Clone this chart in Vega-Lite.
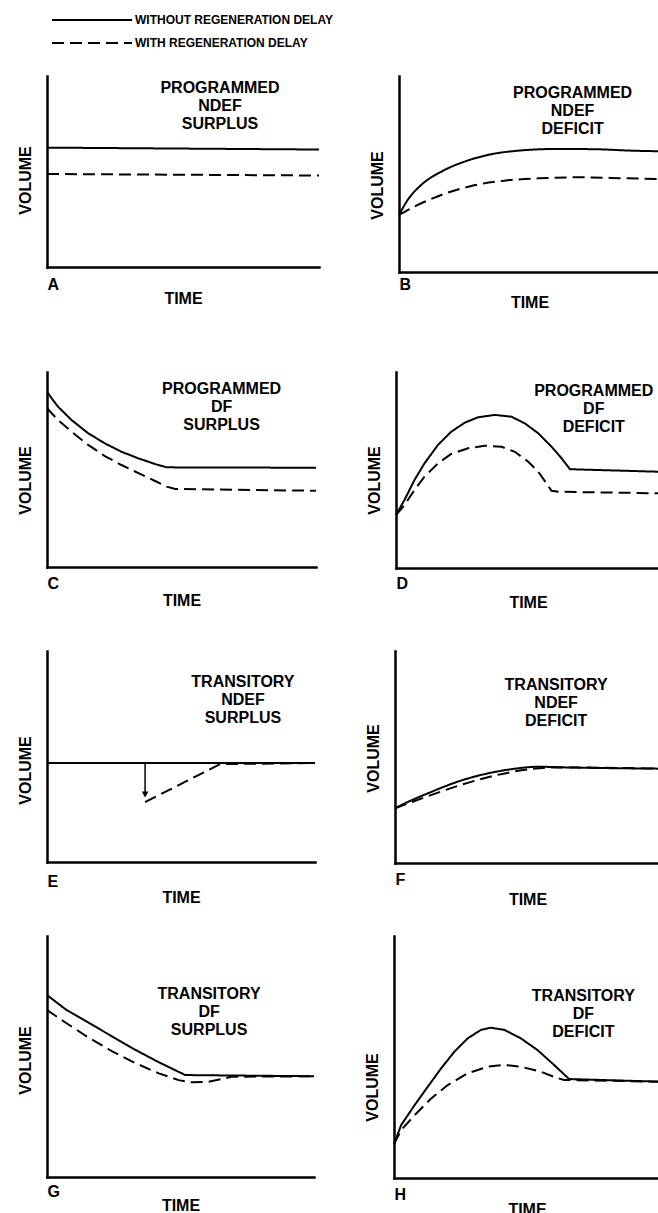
{
  "$schema": "https://vega.github.io/schema/vega-lite/v6.json",
  "background": "white",
  "padding": {"left": 17, "top": 9, "right": 0, "bottom": 0},
  "config": {
    "view": {"stroke": null},
    "font": "Liberation Sans",
    "axis": {"domainColor": "black", "domainWidth": 2.5, "domainCap": "square", "ticks": false, "grid": false, "labelFont": "Liberation Sans", "labelFontWeight": "bold", "labelFontSize": 16, "labelColor": "black", "titleFont": "Liberation Sans", "titleFontWeight": "bold", "titleFontSize": 16, "titleColor": "black"},
    "axisX": {"labelPadding": 9, "titlePadding": 0, "labelAlign": "left"},
    "axisY": {"labels": false, "titlePadding": 13.5},
    "legend": {"orient": "none", "legendX": 34, "legendY": -67, "symbolType": "M-4,0H4", "symbolSize": 400, "symbolStrokeWidth": 2, "symbolStrokeColor": "black", "labelFont": "Liberation Sans", "labelFontWeight": "bold", "labelFontSize": 12, "labelColor": "black", "labelOffset": 32, "rowPadding": 6, "direction": "vertical", "labelLimit": 400},
    "text": {"font": "Liberation Sans", "fontWeight": "bold", "fontSize": 16, "color": "black", "baseline": "top", "align": "center", "lineHeight": 18}
  },
  "datasets": {
    "curves": [
      {"panel": "A", "series": "WITHOUT REGENERATION DELAY", "time": 0, "volume": 6.25},
      {"panel": "A", "series": "WITHOUT REGENERATION DELAY", "time": 10, "volume": 6.15},
      {"panel": "A", "series": "WITH REGENERATION DELAY", "time": 0, "volume": 4.87},
      {"panel": "A", "series": "WITH REGENERATION DELAY", "time": 10, "volume": 4.79},

      {"panel": "B", "series": "WITHOUT REGENERATION DELAY", "time": 0, "volume": 2.91},
      {"panel": "B", "series": "WITHOUT REGENERATION DELAY", "time": 0.33, "volume": 3.67},
      {"panel": "B", "series": "WITHOUT REGENERATION DELAY", "time": 0.85, "volume": 4.44},
      {"panel": "B", "series": "WITHOUT REGENERATION DELAY", "time": 1.62, "volume": 5.12},
      {"panel": "B", "series": "WITHOUT REGENERATION DELAY", "time": 2.51, "volume": 5.63},
      {"panel": "B", "series": "WITHOUT REGENERATION DELAY", "time": 3.54, "volume": 6.01},
      {"panel": "B", "series": "WITHOUT REGENERATION DELAY", "time": 4.57, "volume": 6.19},
      {"panel": "B", "series": "WITHOUT REGENERATION DELAY", "time": 6.10, "volume": 6.28},
      {"panel": "B", "series": "WITHOUT REGENERATION DELAY", "time": 7.64, "volume": 6.26},
      {"panel": "B", "series": "WITHOUT REGENERATION DELAY", "time": 8.92, "volume": 6.19},
      {"panel": "B", "series": "WITHOUT REGENERATION DELAY", "time": 10, "volume": 6.16},
      {"panel": "B", "series": "WITH REGENERATION DELAY", "time": 0, "volume": 2.91},
      {"panel": "B", "series": "WITH REGENERATION DELAY", "time": 0.72, "volume": 3.42},
      {"panel": "B", "series": "WITH REGENERATION DELAY", "time": 1.62, "volume": 3.93},
      {"panel": "B", "series": "WITH REGENERATION DELAY", "time": 2.77, "volume": 4.39},
      {"panel": "B", "series": "WITH REGENERATION DELAY", "time": 4.05, "volume": 4.66},
      {"panel": "B", "series": "WITH REGENERATION DELAY", "time": 5.33, "volume": 4.78},
      {"panel": "B", "series": "WITH REGENERATION DELAY", "time": 7.0, "volume": 4.83},
      {"panel": "B", "series": "WITH REGENERATION DELAY", "time": 8.67, "volume": 4.78},
      {"panel": "B", "series": "WITH REGENERATION DELAY", "time": 10, "volume": 4.74},

      {"panel": "C", "series": "WITHOUT REGENERATION DELAY", "time": 0, "volume": 8.99},
      {"panel": "C", "series": "WITHOUT REGENERATION DELAY", "time": 0.2, "volume": 8.6},
      {"panel": "C", "series": "WITHOUT REGENERATION DELAY", "time": 0.41, "volume": 8.22},
      {"panel": "C", "series": "WITHOUT REGENERATION DELAY", "time": 0.91, "volume": 7.54},
      {"panel": "C", "series": "WITHOUT REGENERATION DELAY", "time": 1.53, "volume": 6.86},
      {"panel": "C", "series": "WITHOUT REGENERATION DELAY", "time": 2.15, "volume": 6.34},
      {"panel": "C", "series": "WITHOUT REGENERATION DELAY", "time": 2.77, "volume": 5.91},
      {"panel": "C", "series": "WITHOUT REGENERATION DELAY", "time": 3.40, "volume": 5.57},
      {"panel": "C", "series": "WITHOUT REGENERATION DELAY", "time": 4.02, "volume": 5.28},
      {"panel": "C", "series": "WITHOUT REGENERATION DELAY", "time": 4.45, "volume": 5.11},
      {"panel": "C", "series": "WITHOUT REGENERATION DELAY", "time": 10, "volume": 5.09},
      {"panel": "C", "series": "WITH REGENERATION DELAY", "time": 0, "volume": 8.14},
      {"panel": "C", "series": "WITH REGENERATION DELAY", "time": 0.41, "volume": 7.54},
      {"panel": "C", "series": "WITH REGENERATION DELAY", "time": 0.91, "volume": 6.94},
      {"panel": "C", "series": "WITH REGENERATION DELAY", "time": 1.53, "volume": 6.26},
      {"panel": "C", "series": "WITH REGENERATION DELAY", "time": 2.15, "volume": 5.69},
      {"panel": "C", "series": "WITH REGENERATION DELAY", "time": 2.77, "volume": 5.23},
      {"panel": "C", "series": "WITH REGENERATION DELAY", "time": 3.40, "volume": 4.81},
      {"panel": "C", "series": "WITH REGENERATION DELAY", "time": 4.02, "volume": 4.41},
      {"panel": "C", "series": "WITH REGENERATION DELAY", "time": 4.45, "volume": 4.12},
      {"panel": "C", "series": "WITH REGENERATION DELAY", "time": 4.77, "volume": 4.0},
      {"panel": "C", "series": "WITH REGENERATION DELAY", "time": 10, "volume": 3.91},

      {"panel": "D", "series": "WITHOUT REGENERATION DELAY", "time": 0, "volume": 2.70},
      {"panel": "D", "series": "WITHOUT REGENERATION DELAY", "time": 0.32, "volume": 3.47},
      {"panel": "D", "series": "WITHOUT REGENERATION DELAY", "time": 0.70, "volume": 4.49},
      {"panel": "D", "series": "WITHOUT REGENERATION DELAY", "time": 1.08, "volume": 5.34},
      {"panel": "D", "series": "WITHOUT REGENERATION DELAY", "time": 1.59, "volume": 6.28},
      {"panel": "D", "series": "WITHOUT REGENERATION DELAY", "time": 2.09, "volume": 6.95},
      {"panel": "D", "series": "WITHOUT REGENERATION DELAY", "time": 2.60, "volume": 7.41},
      {"panel": "D", "series": "WITHOUT REGENERATION DELAY", "time": 3.11, "volume": 7.69},
      {"panel": "D", "series": "WITHOUT REGENERATION DELAY", "time": 3.74, "volume": 7.81},
      {"panel": "D", "series": "WITHOUT REGENERATION DELAY", "time": 4.37, "volume": 7.72},
      {"panel": "D", "series": "WITHOUT REGENERATION DELAY", "time": 4.88, "volume": 7.38},
      {"panel": "D", "series": "WITHOUT REGENERATION DELAY", "time": 5.39, "volume": 6.87},
      {"panel": "D", "series": "WITHOUT REGENERATION DELAY", "time": 5.89, "volume": 6.19},
      {"panel": "D", "series": "WITHOUT REGENERATION DELAY", "time": 6.27, "volume": 5.60},
      {"panel": "D", "series": "WITHOUT REGENERATION DELAY", "time": 6.59, "volume": 5.04},
      {"panel": "D", "series": "WITHOUT REGENERATION DELAY", "time": 10, "volume": 4.91},
      {"panel": "D", "series": "WITH REGENERATION DELAY", "time": 0, "volume": 2.70},
      {"panel": "D", "series": "WITH REGENERATION DELAY", "time": 0.32, "volume": 3.21},
      {"panel": "D", "series": "WITH REGENERATION DELAY", "time": 0.70, "volume": 3.98},
      {"panel": "D", "series": "WITH REGENERATION DELAY", "time": 1.08, "volume": 4.66},
      {"panel": "D", "series": "WITH REGENERATION DELAY", "time": 1.59, "volume": 5.34},
      {"panel": "D", "series": "WITH REGENERATION DELAY", "time": 2.09, "volume": 5.82},
      {"panel": "D", "series": "WITH REGENERATION DELAY", "time": 2.73, "volume": 6.11},
      {"panel": "D", "series": "WITH REGENERATION DELAY", "time": 3.36, "volume": 6.24},
      {"panel": "D", "series": "WITH REGENERATION DELAY", "time": 3.99, "volume": 6.19},
      {"panel": "D", "series": "WITH REGENERATION DELAY", "time": 4.50, "volume": 5.93},
      {"panel": "D", "series": "WITH REGENERATION DELAY", "time": 5.01, "volume": 5.42},
      {"panel": "D", "series": "WITH REGENERATION DELAY", "time": 5.39, "volume": 4.91},
      {"panel": "D", "series": "WITH REGENERATION DELAY", "time": 5.70, "volume": 4.32},
      {"panel": "D", "series": "WITH REGENERATION DELAY", "time": 5.89, "volume": 3.94},
      {"panel": "D", "series": "WITH REGENERATION DELAY", "time": 6.15, "volume": 3.89},
      {"panel": "D", "series": "WITH REGENERATION DELAY", "time": 10, "volume": 3.81},

      {"panel": "E", "series": "WITHOUT REGENERATION DELAY", "time": 0, "volume": 4.69},
      {"panel": "E", "series": "WITHOUT REGENERATION DELAY", "time": 10, "volume": 4.69},
      {"panel": "E", "series": "WITH REGENERATION DELAY", "time": 3.66, "volume": 2.84},
      {"panel": "E", "series": "WITH REGENERATION DELAY", "time": 6.46, "volume": 4.64},
      {"panel": "E", "series": "WITH REGENERATION DELAY", "time": 10, "volume": 4.69},

      {"panel": "F", "series": "WITHOUT REGENERATION DELAY", "time": 0, "volume": 2.58},
      {"panel": "F", "series": "WITHOUT REGENERATION DELAY", "time": 0.52, "volume": 2.90},
      {"panel": "F", "series": "WITHOUT REGENERATION DELAY", "time": 1.40, "volume": 3.37},
      {"panel": "F", "series": "WITHOUT REGENERATION DELAY", "time": 2.40, "volume": 3.85},
      {"panel": "F", "series": "WITHOUT REGENERATION DELAY", "time": 3.41, "volume": 4.20},
      {"panel": "F", "series": "WITHOUT REGENERATION DELAY", "time": 4.42, "volume": 4.43},
      {"panel": "F", "series": "WITHOUT REGENERATION DELAY", "time": 5.42, "volume": 4.54},
      {"panel": "F", "series": "WITHOUT REGENERATION DELAY", "time": 6.43, "volume": 4.51},
      {"panel": "F", "series": "WITHOUT REGENERATION DELAY", "time": 10, "volume": 4.45},
      {"panel": "F", "series": "WITH REGENERATION DELAY", "time": 0, "volume": 2.58},
      {"panel": "F", "series": "WITH REGENERATION DELAY", "time": 6.18, "volume": 4.51},
      {"panel": "F", "series": "WITH REGENERATION DELAY", "time": 10, "volume": 4.45},

      {"panel": "G", "series": "WITHOUT REGENERATION DELAY", "time": 0, "volume": 7.55},
      {"panel": "G", "series": "WITHOUT REGENERATION DELAY", "time": 0.73, "volume": 6.93},
      {"panel": "G", "series": "WITHOUT REGENERATION DELAY", "time": 1.59, "volume": 6.38},
      {"panel": "G", "series": "WITHOUT REGENERATION DELAY", "time": 2.46, "volume": 5.82},
      {"panel": "G", "series": "WITHOUT REGENERATION DELAY", "time": 3.32, "volume": 5.27},
      {"panel": "G", "series": "WITHOUT REGENERATION DELAY", "time": 4.19, "volume": 4.76},
      {"panel": "G", "series": "WITHOUT REGENERATION DELAY", "time": 5.05, "volume": 4.30},
      {"panel": "G", "series": "WITHOUT REGENERATION DELAY", "time": 5.17, "volume": 4.23},
      {"panel": "G", "series": "WITHOUT REGENERATION DELAY", "time": 10, "volume": 4.18},
      {"panel": "G", "series": "WITH REGENERATION DELAY", "time": 0, "volume": 6.93},
      {"panel": "G", "series": "WITH REGENERATION DELAY", "time": 0.73, "volume": 6.38},
      {"panel": "G", "series": "WITH REGENERATION DELAY", "time": 1.59, "volume": 5.76},
      {"panel": "G", "series": "WITH REGENERATION DELAY", "time": 2.46, "volume": 5.20},
      {"panel": "G", "series": "WITH REGENERATION DELAY", "time": 3.32, "volume": 4.72},
      {"panel": "G", "series": "WITH REGENERATION DELAY", "time": 4.19, "volume": 4.30},
      {"panel": "G", "series": "WITH REGENERATION DELAY", "time": 4.93, "volume": 4.02},
      {"panel": "G", "series": "WITH REGENERATION DELAY", "time": 5.42, "volume": 3.93},
      {"panel": "G", "series": "WITH REGENERATION DELAY", "time": 6.04, "volume": 3.95},
      {"panel": "G", "series": "WITH REGENERATION DELAY", "time": 6.66, "volume": 4.09},
      {"panel": "G", "series": "WITH REGENERATION DELAY", "time": 6.90, "volume": 4.16},
      {"panel": "G", "series": "WITH REGENERATION DELAY", "time": 10, "volume": 4.18},

      {"panel": "H", "series": "WITHOUT REGENERATION DELAY", "time": 0, "volume": 1.40},
      {"panel": "H", "series": "WITHOUT REGENERATION DELAY", "time": 0.27, "volume": 2.19},
      {"panel": "H", "series": "WITHOUT REGENERATION DELAY", "time": 0.78, "volume": 3.02},
      {"panel": "H", "series": "WITHOUT REGENERATION DELAY", "time": 1.27, "volume": 3.77},
      {"panel": "H", "series": "WITHOUT REGENERATION DELAY", "time": 1.77, "volume": 4.53},
      {"panel": "H", "series": "WITHOUT REGENERATION DELAY", "time": 2.27, "volume": 5.22},
      {"panel": "H", "series": "WITHOUT REGENERATION DELAY", "time": 2.77, "volume": 5.77},
      {"panel": "H", "series": "WITHOUT REGENERATION DELAY", "time": 3.27, "volume": 6.12},
      {"panel": "H", "series": "WITHOUT REGENERATION DELAY", "time": 3.64, "volume": 6.21},
      {"panel": "H", "series": "WITHOUT REGENERATION DELAY", "time": 4.15, "volume": 6.12},
      {"panel": "H", "series": "WITHOUT REGENERATION DELAY", "time": 4.77, "volume": 5.77},
      {"panel": "H", "series": "WITHOUT REGENERATION DELAY", "time": 5.39, "volume": 5.29},
      {"panel": "H", "series": "WITHOUT REGENERATION DELAY", "time": 6.02, "volume": 4.67},
      {"panel": "H", "series": "WITHOUT REGENERATION DELAY", "time": 6.58, "volume": 4.09},
      {"panel": "H", "series": "WITHOUT REGENERATION DELAY", "time": 10, "volume": 3.98},
      {"panel": "H", "series": "WITH REGENERATION DELAY", "time": 0, "volume": 1.40},
      {"panel": "H", "series": "WITH REGENERATION DELAY", "time": 0.27, "volume": 1.98},
      {"panel": "H", "series": "WITH REGENERATION DELAY", "time": 0.78, "volume": 2.60},
      {"panel": "H", "series": "WITH REGENERATION DELAY", "time": 1.40, "volume": 3.29},
      {"panel": "H", "series": "WITH REGENERATION DELAY", "time": 2.02, "volume": 3.84},
      {"panel": "H", "series": "WITH REGENERATION DELAY", "time": 2.77, "volume": 4.33},
      {"panel": "H", "series": "WITH REGENERATION DELAY", "time": 3.52, "volume": 4.60},
      {"panel": "H", "series": "WITH REGENERATION DELAY", "time": 4.15, "volume": 4.67},
      {"panel": "H", "series": "WITH REGENERATION DELAY", "time": 4.77, "volume": 4.60},
      {"panel": "H", "series": "WITH REGENERATION DELAY", "time": 5.52, "volume": 4.39},
      {"panel": "H", "series": "WITH REGENERATION DELAY", "time": 6.02, "volume": 4.18},
      {"panel": "H", "series": "WITH REGENERATION DELAY", "time": 6.39, "volume": 4.05},
      {"panel": "H", "series": "WITH REGENERATION DELAY", "time": 10, "volume": 3.98}
    ]
  },
  "spacing": 62,
  "vconcat": [
    {"spacing": 46, "hconcat": [
      {"width": 272, "height": 191, "layer": [
        {"data": {"name": "curves"}, "transform": [{"filter": "datum.panel === 'A'"}],
         "mark": {"type": "line", "interpolate": "linear", "color": "black", "strokeWidth": 2},
         "encoding": {
           "x": {"field": "time", "type": "quantitative", "scale": {"domain": [0, 10], "nice": false, "zero": false}, "axis": {"values": [0], "labelExpr": "'A'", "title": "TIME", "labelPadding": 9, "titlePadding": -2}},
           "y": {"field": "volume", "type": "quantitative", "scale": {"domain": [0, 10], "nice": false}, "axis": {"title": "VOLUME", "titleY": 104}},
           "strokeDash": {"field": "series", "type": "nominal", "scale": {"domain": ["WITHOUT REGENERATION DELAY", "WITH REGENERATION DELAY"], "range": [[1, 0], [12, 6]]}, "legend": {"title": null}}
         }},
        {"data": {"values": [{}]}, "mark": {"type": "text", "text": ["PROGRAMMED", "NDEF", "SURPLUS"]},
         "encoding": {"x": {"datum": 6.36, "type": "quantitative"}, "y": {"datum": 9.79, "type": "quantitative"}}}
      ]},
      {"width": 261, "height": 196, "layer": [
        {"data": {"name": "curves"}, "transform": [{"filter": "datum.panel === 'B'"}],
         "mark": {"type": "line", "interpolate": "monotone", "color": "black", "strokeWidth": 2},
         "encoding": {
           "x": {"field": "time", "type": "quantitative", "scale": {"domain": [0, 10], "nice": false, "zero": false}, "axis": {"values": [0], "labelExpr": "'B'", "title": "TIME", "labelPadding": 4, "titlePadding": 2}},
           "y": {"field": "volume", "type": "quantitative", "scale": {"domain": [0, 10], "nice": false}, "axis": {"title": "VOLUME", "titleY": 109}},
           "strokeDash": {"field": "series", "type": "nominal", "scale": {"domain": ["WITHOUT REGENERATION DELAY", "WITH REGENERATION DELAY"], "range": [[1, 0], [12, 6]]}, "legend": {"title": null}}
         }},
        {"data": {"values": [{}]}, "mark": {"type": "text", "text": ["PROGRAMMED", "NDEF", "DEFICIT"]},
         "encoding": {"x": {"datum": 6.65, "type": "quantitative"}, "y": {"datum": 9.54, "type": "quantitative"}}}
      ]}
    ]},
    {"spacing": 41, "vconcat": [
      {"spacing": 46, "hconcat": [
        {"width": 269, "height": 195, "layer": [
          {"data": {"name": "curves"}, "transform": [{"filter": "datum.panel === 'C'"}],
           "mark": {"type": "line", "interpolate": "linear", "color": "black", "strokeWidth": 2},
           "encoding": {
             "x": {"field": "time", "type": "quantitative", "scale": {"domain": [0, 10], "nice": false, "zero": false}, "axis": {"values": [0], "labelExpr": "'C'", "title": "TIME", "labelPadding": 8, "titlePadding": 1}},
             "y": {"field": "volume", "type": "quantitative", "scale": {"domain": [0, 10], "nice": false}, "axis": {"title": "VOLUME", "titleY": 108}},
             "strokeDash": {"field": "series", "type": "nominal", "scale": {"domain": ["WITHOUT REGENERATION DELAY", "WITH REGENERATION DELAY"], "range": [[1, 0], [12, 6]]}, "legend": {"title": null}}
           }},
          {"data": {"values": [{}]}, "mark": {"type": "text", "text": ["PROGRAMMED", "DF", "SURPLUS"]},
           "encoding": {"x": {"datum": 6.49, "type": "quantitative"}, "y": {"datum": 9.54, "type": "quantitative"}}}
        ]},
        {"width": 264, "height": 196, "layer": [
          {"data": {"name": "curves"}, "transform": [{"filter": "datum.panel === 'D'"}],
           "mark": {"type": "line", "interpolate": "linear", "color": "black", "strokeWidth": 2},
           "encoding": {
             "x": {"field": "time", "type": "quantitative", "scale": {"domain": [0, 10], "nice": false, "zero": false}, "axis": {"values": [0], "labelExpr": "'D'", "title": "TIME", "labelPadding": 7, "titlePadding": 3}},
             "y": {"field": "volume", "type": "quantitative", "scale": {"domain": [0, 10], "nice": false}, "axis": {"title": "VOLUME", "titleY": 108}},
             "strokeDash": {"field": "series", "type": "nominal", "scale": {"domain": ["WITHOUT REGENERATION DELAY", "WITH REGENERATION DELAY"], "range": [[1, 0], [12, 6]]}, "legend": {"title": null}}
           }},
          {"data": {"values": [{}]}, "mark": {"type": "text", "text": ["PROGRAMMED", "DF", "DEFICIT"]},
           "encoding": {"x": {"datum": 7.49, "type": "quantitative"}, "y": {"datum": 9.44, "type": "quantitative"}}}
        ]}
      ]},
      {"spacing": 29, "vconcat": [
        {"spacing": 46, "hconcat": [
          {"width": 268, "height": 211, "layer": [
            {"data": {"name": "curves"}, "transform": [{"filter": "datum.panel === 'E'"}],
             "mark": {"type": "line", "interpolate": "linear", "color": "black", "strokeWidth": 2},
             "encoding": {
               "x": {"field": "time", "type": "quantitative", "scale": {"domain": [0, 10], "nice": false, "zero": false}, "axis": {"values": [0], "labelExpr": "'E'", "title": "TIME", "labelPadding": 11, "titlePadding": 0}},
               "y": {"field": "volume", "type": "quantitative", "scale": {"domain": [0, 10], "nice": false}, "axis": {"title": "VOLUME", "titleY": 119}},
               "strokeDash": {"field": "series", "type": "nominal", "scale": {"domain": ["WITHOUT REGENERATION DELAY", "WITH REGENERATION DELAY"], "range": [[1, 0], [12, 6]]}, "legend": {"title": null}}
             }},
            {"data": {"values": [{}]}, "mark": {"type": "rule", "color": "black", "strokeWidth": 1.5},
             "encoding": {"x": {"datum": 3.66, "type": "quantitative"}, "y": {"datum": 4.69, "type": "quantitative"}, "y2": {"datum": 3.3}}},
            {"data": {"values": [{}]}, "mark": {"type": "point", "shape": "triangle-down", "filled": true, "color": "black", "opacity": 1, "size": 45},
             "encoding": {"x": {"datum": 3.66, "type": "quantitative"}, "y": {"datum": 3.2, "type": "quantitative"}}},
            {"data": {"values": [{}]}, "mark": {"type": "text", "text": ["TRANSITORY", "NDEF", "SURPLUS"]},
             "encoding": {"x": {"datum": 7.31, "type": "quantitative"}, "y": {"datum": 8.91, "type": "quantitative"}}}
          ]},
          {"width": 265, "height": 212, "layer": [
            {"data": {"name": "curves"}, "transform": [{"filter": "datum.panel === 'F'"}],
             "mark": {"type": "line", "interpolate": "monotone", "color": "black", "strokeWidth": 2},
             "encoding": {
               "x": {"field": "time", "type": "quantitative", "scale": {"domain": [0, 10], "nice": false, "zero": false}, "axis": {"values": [0], "labelExpr": "'F'", "title": "TIME", "labelPadding": 8, "titlePadding": 4}},
               "y": {"field": "volume", "type": "quantitative", "scale": {"domain": [0, 10], "nice": false}, "axis": {"title": "VOLUME", "titleY": 107}},
               "strokeDash": {"field": "series", "type": "nominal", "scale": {"domain": ["WITHOUT REGENERATION DELAY", "WITH REGENERATION DELAY"], "range": [[1, 0], [12, 6]]}, "legend": {"title": null}}
             }},
            {"data": {"values": [{}]}, "mark": {"type": "text", "text": ["TRANSITORY", "NDEF", "DEFICIT"]},
             "encoding": {"x": {"datum": 6.08, "type": "quantitative"}, "y": {"datum": 8.77, "type": "quantitative"}}}
          ]}
        ]},
        {"spacing": 46, "hconcat": [
          {"width": 267, "height": 241, "layer": [
            {"data": {"name": "curves"}, "transform": [{"filter": "datum.panel === 'G'"}],
             "mark": {"type": "line", "interpolate": "linear", "color": "black", "strokeWidth": 2},
             "encoding": {
               "x": {"field": "time", "type": "quantitative", "scale": {"domain": [0, 10], "nice": false, "zero": false}, "axis": {"values": [0], "labelExpr": "'G'", "title": "TIME", "labelPadding": 6, "titlePadding": -2}},
               "y": {"field": "volume", "type": "quantitative", "scale": {"domain": [0, 10], "nice": false}, "axis": {"title": "VOLUME", "titleY": 124}},
               "strokeDash": {"field": "series", "type": "nominal", "scale": {"domain": ["WITHOUT REGENERATION DELAY", "WITH REGENERATION DELAY"], "range": [[1, 0], [12, 6]]}, "legend": {"title": null}}
             }},
            {"data": {"values": [{}]}, "mark": {"type": "text", "text": ["TRANSITORY", "DF", "SURPLUS"]},
             "encoding": {"x": {"datum": 6.07, "type": "quantitative"}, "y": {"datum": 7.93, "type": "quantitative"}}}
          ]},
          {"width": 266, "height": 242, "layer": [
            {"data": {"name": "curves"}, "transform": [{"filter": "datum.panel === 'H'"}],
             "mark": {"type": "line", "interpolate": "linear", "color": "black", "strokeWidth": 2},
             "encoding": {
               "x": {"field": "time", "type": "quantitative", "scale": {"domain": [0, 10], "nice": false, "zero": false}, "axis": {"values": [0], "labelExpr": "'H'", "title": "TIME", "labelPadding": 8, "titlePadding": -1}},
               "y": {"field": "volume", "type": "quantitative", "scale": {"domain": [0, 10], "nice": false}, "axis": {"title": "VOLUME", "titleY": 151}},
               "strokeDash": {"field": "series", "type": "nominal", "scale": {"domain": ["WITHOUT REGENERATION DELAY", "WITH REGENERATION DELAY"], "range": [[1, 0], [12, 6]]}, "legend": {"title": null}}
             }},
            {"data": {"values": [{}]}, "mark": {"type": "text", "text": ["TRANSITORY", "DF", "DEFICIT"]},
             "encoding": {"x": {"datum": 7.12, "type": "quantitative"}, "y": {"datum": 7.85, "type": "quantitative"}}}
          ]}
        ]}
      ]}
    ]}
  ]
}
